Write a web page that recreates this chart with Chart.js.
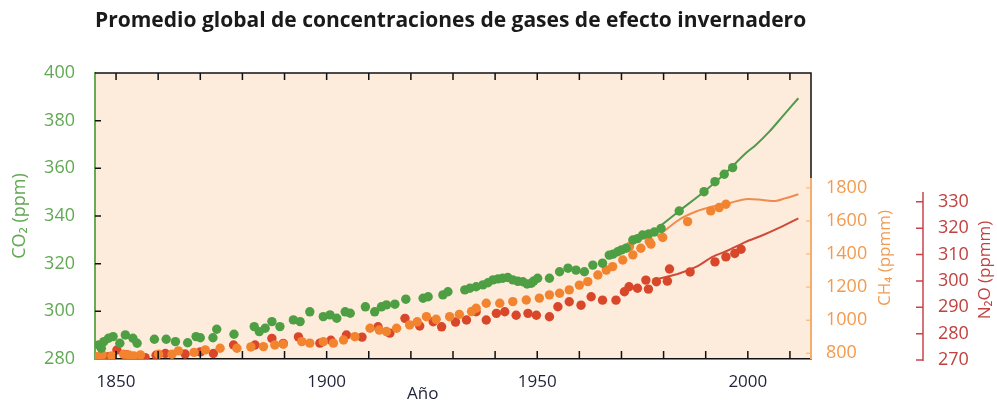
<!DOCTYPE html>
<html>
<head>
<meta charset="utf-8">
<script src="https://cdn.jsdelivr.net/npm/chart.js@4"></script>
<style>
  body { margin: 0; background: #fff; }
  #wrap { position: relative; width: 997px; height: 403px; }
  #titulo {
    position: absolute; left: 95px; top: 9px; margin: 0;
    font: bold 21px 'Open Sans', 'Liberation Sans', sans-serif; line-height: 21px;
    color: #1a1a1a; white-space: nowrap;
  }
</style>
</head>
<body>
<div id="wrap">
  <h1 id="titulo">Promedio global de concentraciones de gases de efecto invernadero</h1>
  <canvas id="chart" width="997" height="403"></canvas>
</div>
<script>
// Datos
const co2Years = [1845.9, 1846.5, 1847.1, 1848.2, 1849.3, 1850.9, 1852.2, 1854.0, 1855.0, 1859.1, 1861.9, 1864.1, 1867.0, 1869.0, 1870.0, 1873.0, 1873.9, 1878.0, 1882.8, 1884.0, 1885.4, 1887.0, 1888.9, 1892.1, 1893.7, 1896.0, 1899.2, 1900.8, 1902.4, 1904.4, 1905.6, 1909.2, 1911.4, 1913.0, 1914.2, 1916.2, 1918.8, 1922.9, 1924.1, 1927.6, 1928.8, 1932.8, 1934.0, 1935.5, 1937.1, 1938.3, 1939.5, 1940.7, 1941.8, 1943.0, 1944.2, 1945.4, 1946.6, 1947.6, 1948.6, 1949.2, 1950.1, 1952.9, 1955.3, 1957.3, 1959.2, 1961.2, 1963.2, 1965.5, 1967.1, 1968.0, 1969.1, 1970.0, 1971.1, 1972.7, 1973.8, 1975.0, 1976.5, 1977.8, 1979.4, 1983.7, 1989.6, 1992.2, 1994.4, 1996.4];
const co2Values = [285.9, 284.5, 287.3, 288.7, 289.4, 286.6, 290.1, 288.7, 286.6, 288.3, 288.3, 287.3, 286.8, 289.4, 288.9, 288.9, 292.5, 290.4, 293.6, 291.5, 292.9, 295.7, 293.6, 296.4, 295.7, 299.8, 297.8, 298.5, 297.1, 299.8, 299.2, 301.9, 299.8, 301.9, 302.7, 303.0, 305.1, 305.5, 306.1, 306.9, 308.2, 309.0, 309.7, 310.3, 311.1, 312.0, 313.2, 313.6, 313.9, 314.2, 313.2, 312.6, 312.4, 311.5, 311.8, 312.8, 313.9, 313.9, 316.6, 318.1, 317.3, 316.6, 319.4, 320.2, 323.6, 324.0, 325.0, 325.8, 326.5, 329.9, 330.5, 332.0, 332.5, 333.3, 334.8, 342.1, 350.2, 354.4, 357.5, 360.3];
const co2LineYears = [1978.5, 1983.7, 1989.6, 1994.4, 1999.5, 2001.9, 2005.1, 2008.2, 2012.0];
const co2LineValues = [334.8, 342.1, 350.2, 357.5, 366.3, 369.8, 375.4, 381.7, 389.4];

const ch4Years = [1845.5, 1846.7, 1849.0, 1851.8, 1853.0, 1854.2, 1855.8, 1860.1, 1863.3, 1864.8, 1868.5, 1871.2, 1874.7, 1878.7, 1882.0, 1885.0, 1887.7, 1889.7, 1894.1, 1896.0, 1899.2, 1901.6, 1904.0, 1906.7, 1910.3, 1912.5, 1914.2, 1916.6, 1919.7, 1921.5, 1923.7, 1926.0, 1929.2, 1931.5, 1934.4, 1935.5, 1937.9, 1941.1, 1944.2, 1947.4, 1950.5, 1952.9, 1955.3, 1957.6, 1960.0, 1962.0, 1964.4, 1966.4, 1967.9, 1970.3, 1971.9, 1972.7, 1974.6, 1976.6, 1977.0, 1979.8, 1985.7, 1991.2, 1993.2, 1994.8];
const ch4Values = [779, 790, 784, 794, 790, 784, 790, 794, 794, 814, 805, 820, 830, 830, 838, 840, 850, 854, 870, 861, 870, 861, 880, 900, 951, 940, 931, 951, 971, 990, 1021, 1005, 1021, 1035, 1052, 1072, 1102, 1102, 1112, 1122, 1133, 1153, 1163, 1183, 1212, 1233, 1273, 1303, 1324, 1364, 1445, 1395, 1435, 1475, 1460, 1500, 1596, 1661, 1681, 1701];
const ch4LineYears = [1978.5, 1983.6, 1987.7, 1991.6, 1995.5, 1999.5, 2003.5, 2006.6, 2009.0, 2012.0];
const ch4LineValues = [1505, 1606, 1657, 1687, 1708, 1732, 1727, 1721, 1738, 1762];

const n2oYears = [1845.3, 1848.2, 1850.2, 1852.5, 1856.9, 1859.5, 1861.7, 1866.4, 1870.0, 1873.1, 1877.9, 1883.0, 1887.0, 1889.7, 1893.3, 1898.4, 1901.0, 1904.7, 1908.4, 1912.2, 1915.0, 1918.6, 1922.1, 1925.3, 1927.3, 1930.6, 1933.2, 1935.5, 1937.9, 1940.3, 1942.3, 1945.0, 1947.8, 1949.8, 1952.9, 1954.9, 1957.6, 1960.4, 1962.8, 1965.5, 1968.7, 1970.7, 1971.8, 1973.8, 1975.8, 1976.4, 1978.3, 1981.4, 1980.9, 1986.3, 1992.2, 1994.8, 1996.9, 1998.4];
const n2oValues = [271.0, 271.3, 273.8, 272.0, 270.9, 271.8, 272.5, 272.3, 273.1, 272.5, 275.7, 275.7, 278.2, 276.3, 278.8, 276.4, 277.5, 279.5, 278.7, 282.6, 280.2, 285.8, 282.9, 284.5, 282.6, 284.4, 285.2, 288.3, 285.2, 287.7, 288.3, 287.0, 287.7, 287.0, 286.4, 290.2, 292.1, 290.8, 294.0, 292.7, 292.7, 295.9, 297.8, 297.2, 300.3, 296.9, 299.7, 304.5, 299.9, 303.4, 307.2, 309.1, 310.4, 312.0];
const n2oLineYears = [1979.0, 1983.7, 1987.7, 1991.6, 1995.5, 1999.5, 2003.5, 2007.4, 2012.0];
const n2oLineValues = [300.9, 302.8, 305.3, 309.1, 311.7, 314.8, 317.3, 320.1, 323.7];

// Marcas de los ejes
const xLabelYears = [1850, 1900, 1950, 2000];
const xTickYears = [1850, 1860, 1870, 1880, 1890, 1900, 1910, 1920, 1930, 1940, 1950, 1960, 1970, 1980, 1990, 2000, 2010];
const co2Ticks = [280, 300, 320, 340, 360, 380, 400];
const ch4Ticks = [800, 1000, 1200, 1400, 1600, 1800];
const n2oTicks = [270, 280, 290, 300, 310, 320, 330];

// Colores
const verde = '#4e9f43', verdeLinea = '#4f9a4b', verdeTexto = '#62a855';
const naranja = '#f3842f', naranjaLinea = '#ef8b4e', naranjaTexto = '#f39a4e';
const rojo = '#d9472a', rojoLinea = '#cf4a38', rojoTexto = '#c0413f';
const fuente = "'Open Sans', 'Liberation Sans', sans-serif";

function pares(xs, ys) {
  return xs.map((x, i) => ({ x: x, y: ys[i] }));
}

function puntos(label, xs, ys, color, eje) {
  return {
    label: label, data: pares(xs, ys), yAxisID: eje,
    backgroundColor: color, borderWidth: 0, pointRadius: 4.7, showLine: false
  };
}

function linea(label, xs, ys, color, eje) {
  return {
    label: label, data: pares(xs, ys), yAxisID: eje,
    borderColor: color, borderWidth: 2, pointRadius: 0, showLine: true, tension: 0.3
  };
}

// Fondo del área del gráfico
const fondo = {
  id: 'fondo',
  beforeDraw(chart) {
    const { ctx, chartArea: a } = chart;
    ctx.save();
    ctx.fillStyle = '#fdecdb';
    ctx.fillRect(a.left, a.top, a.right - a.left, a.bottom - a.top);
    ctx.restore();
  }
};

function textoVertical(ctx, texto, x, y, color) {
  ctx.save();
  ctx.translate(x, y);
  ctx.rotate(-Math.PI / 2);
  ctx.textAlign = 'center';
  ctx.textBaseline = 'middle';
  ctx.fillStyle = color;
  ctx.font = '17px ' + fuente;
  ctx.fillText(texto, 0, 0);
  ctx.restore();
}

// Marco, marcas hacia dentro y ejes secundarios
const marco = {
  id: 'marco',
  afterDraw(chart) {
    const { ctx, chartArea: a, scales } = chart;
    const x = scales.x, yc = scales.y, ym = scales.yCH4, yn = scales.yN2O;
    ctx.save();

    ctx.strokeStyle = '#111';
    ctx.lineWidth = 1.5;
    ctx.beginPath();
    ctx.moveTo(a.left, a.top);
    ctx.lineTo(a.right, a.top);
    ctx.lineTo(a.right, ym.getPixelForValue(1860));
    xTickYears.forEach(v => {
      const px = x.getPixelForValue(v);
      ctx.moveTo(px, a.top); ctx.lineTo(px, a.top + 7);
      ctx.moveTo(px, a.bottom); ctx.lineTo(px, a.bottom - 8);
    });
    co2Ticks.slice(1, -1).forEach(v => {
      const py = yc.getPixelForValue(v);
      ctx.moveTo(a.left, py); ctx.lineTo(a.left + 6, py);
    });
    ctx.stroke();

    // Eje CH4
    ctx.strokeStyle = '#f6ad6a';
    ctx.lineWidth = 2;
    ctx.beginPath();
    ctx.moveTo(a.right, ym.getPixelForValue(1860));
    ctx.lineTo(a.right, a.bottom);
    ctx.stroke();
    ctx.lineWidth = 1;
    ctx.beginPath();
    ch4Ticks.forEach(v => {
      const py = ym.getPixelForValue(v);
      ctx.moveTo(a.right - 5, py); ctx.lineTo(a.right, py);
    });
    ctx.stroke();

    // Eje N2O
    const nx = yn.left;
    ctx.strokeStyle = '#c8434b';
    ctx.lineWidth = 1.5;
    ctx.beginPath();
    ctx.moveTo(nx, yn.getPixelForValue(333.7));
    ctx.lineTo(nx, yn.getPixelForValue(270) + 1);
    n2oTicks.forEach(v => {
      const py = yn.getPixelForValue(v);
      ctx.moveTo(nx - 7, py); ctx.lineTo(nx, py);
    });
    ctx.stroke();

    textoVertical(ctx, 'CH₄ (ppmm)', ym.left + 74, 258, naranjaTexto);
    textoVertical(ctx, 'N₂O (ppmm)', yn.left + 62, 270, rojoTexto);

    ctx.fillStyle = '#1f2238';
    ctx.font = '17px ' + fuente;
    ctx.textAlign = 'center';
    ctx.textBaseline = 'alphabetic';
    ctx.fillText('Año', x.getPixelForValue(1922.8), 399);
    ctx.restore();
  }
};

new Chart(document.getElementById('chart'), {
  type: 'scatter',
  data: {
    datasets: [
      puntos('CO2', co2Years, co2Values, verde, 'y'),
      linea('CO2 línea', co2LineYears, co2LineValues, verdeLinea, 'y'),
      puntos('CH4', ch4Years, ch4Values, naranja, 'yCH4'),
      linea('CH4 línea', ch4LineYears, ch4LineValues, naranjaLinea, 'yCH4'),
      puntos('N2O', n2oYears, n2oValues, rojo, 'yN2O'),
      linea('N2O línea', n2oLineYears, n2oLineValues, rojoLinea, 'yN2O')
    ]
  },
  options: {
    responsive: false,
    animation: false,
    layout: { padding: { top: 73, left: 0, right: 0, bottom: 0 } },
    plugins: { legend: { display: false }, tooltip: { enabled: false } },
    scales: {
      x: {
        type: 'linear', position: 'bottom', min: 1845, max: 2015,
        afterBuildTicks: s => { s.ticks = xLabelYears.map(v => ({ value: v })); },
        afterFit: s => { s.height = 44; },
        grid: { display: false },
        border: { color: '#111', width: 1.5 },
        ticks: { color: '#1f2238', font: { family: fuente, size: 17 }, padding: 5, callback: v => String(v) }
      },
      y: {
        type: 'linear', position: 'left', min: 280, max: 400,
        afterBuildTicks: s => { s.ticks = co2Ticks.map(v => ({ value: v })); },
        afterFit: s => { s.width = 95; },
        grid: { display: false },
        border: { color: '#6aaa55', width: 2 },
        ticks: { color: verdeTexto, font: { family: fuente, size: 18 }, padding: 12, callback: v => String(v) },
        title: { display: true, text: 'CO₂ (ppm)', color: verdeTexto, font: { family: fuente, size: 18 }, padding: { top: 9, bottom: 0 } }
      },
      yCH4: {
        type: 'linear', position: 'right', min: 765, max: 2495,
        afterBuildTicks: s => { s.ticks = ch4Ticks.map(v => ({ value: v })); },
        afterFit: s => { s.width = 112; },
        grid: { display: false },
        border: { display: false },
        ticks: { color: naranjaTexto, font: { family: fuente, size: 18 }, padding: 7, callback: v => String(v) }
      },
      yN2O: {
        type: 'linear', position: 'right', min: 270.4, max: 378.8,
        afterBuildTicks: s => { s.ticks = n2oTicks.map(v => ({ value: v })); },
        afterFit: s => { s.width = 74; },
        grid: { display: false },
        border: { display: false },
        ticks: { color: rojoTexto, font: { family: fuente, size: 18 }, padding: 7, callback: v => String(v) }
      }
    }
  },
  plugins: [fondo, marco]
});
</script>
</body>
</html>
